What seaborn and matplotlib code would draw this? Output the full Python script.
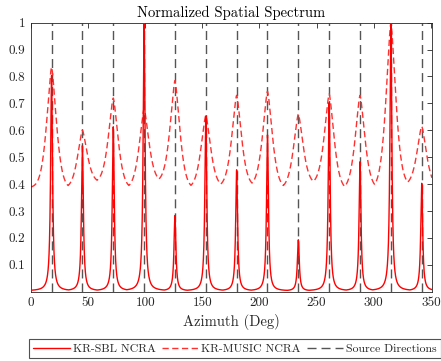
import numpy as np
import pandas as pd
import matplotlib
matplotlib.use("Agg")
import matplotlib.pyplot as plt
import seaborn as sns

# ---- data ----
directions = [18, 45, 72, 99, 126, 153, 180, 207, 234, 261, 288, 315, 342]
sbl_peaks = [0.80, 0.54, 0.61, 1.00, 0.28, 0.65, 0.45, 0.58, 0.19, 0.70, 0.48, 1.00, 0.40]
music_peaks = [0.835, 0.60, 0.72, 0.68, 0.785, 0.655, 0.73, 0.745, 0.66, 0.735, 0.73, 1.00, 0.615]
# valley level after each peak (last one wraps around 360 deg)
music_valleys = [0.384, 0.406, 0.384, 0.408, 0.384, 0.390, 0.392, 0.384, 0.400, 0.379, 0.383, 0.395, 0.387]
x_ticks = [0, 50, 100, 150, 200, 250, 300, 350]
y_ticks = [0.1, 0.2, 0.3, 0.4, 0.5, 0.6, 0.7, 0.8, 0.9, 1.0]
y_tick_labels = ["0.1", "0.2", "0.3", "0.4", "0.5", "0.6", "0.7", "0.8", "0.9", "1"]
series_labels = ["KR-SBL NCRA", "KR-MUSIC NCRA", "Source Directions"]
title = "Normalized Spatial Spectrum"
xlabel = "Azimuth (Deg)"

# ---- spectrum shapes built from the read peak / valley levels ----
az = np.arange(0, 351.0001, 0.05)

p = np.array(directions, float)
hm = np.array(music_peaks)
vm = np.array(music_valleys)
P = np.concatenate([[p[-1] - 360], p, [p[0] + 360]])
H = np.concatenate([[hm[-1]], hm, [hm[0]]])
V = np.concatenate([[vm[-1]], vm])


def lobe(d, s=6.0, a=1.5):
    return np.exp(-(np.abs(d) / s) ** a)


idx = np.searchsorted(P, az, side="right") - 1
idx = np.clip(idx, 0, len(P) - 2)
m = V[idx]
music = m + np.maximum((H[idx] - m) * lobe(az - P[idx]),
                       (H[idx + 1] - m) * lobe(az - P[idx + 1]))

hs = np.array(sbl_peaks)
w = 1.0
sbl = 0.003 + np.max(hs[:, None] / (1 + ((az[None, :] - p[:, None]) / w) ** 2), axis=0)

df_sbl = pd.DataFrame({"Azimuth": az, "Spectrum": sbl})
df_music = pd.DataFrame({"Azimuth": az, "Spectrum": music})

# ---- style ----
sns.set_style("white")
plt.rcParams["font.family"] = ["cmr10", "DejaVu Serif"]
plt.rcParams["axes.formatter.use_mathtext"] = True
plt.rcParams["mathtext.fontset"] = "cm"

fig = plt.figure(figsize=(4.41, 3.61), dpi=100)
ax = fig.add_axes([31 / 441, 1 - 291.7 / 361, (432 - 31) / 441, (291.7 - 22.7) / 361])

sns.lineplot(data=df_sbl, x="Azimuth", y="Spectrum", ax=ax, color="#ff0000",
             lw=1.0, estimator=None, label=series_labels[0], zorder=3)
sns.lineplot(data=df_music, x="Azimuth", y="Spectrum", ax=ax, color="#ff3030",
             lw=1.0, estimator=None, linestyle=(0, (4.5, 2.5)),
             label=series_labels[1], zorder=2)
for i, d in enumerate(directions):
    ax.axvline(d, color="#555555", lw=1.0, linestyle=(0, (6.5, 3.6)),
               label=series_labels[2] if i == 0 else None, zorder=1)

ax.set_xlim(0, 351)
ax.set_ylim(0.0, 1.0)
ax.set_xticks(x_ticks)
ax.set_xticklabels([str(t) for t in x_ticks])
ax.set_yticks(y_ticks)
ax.set_yticklabels(y_tick_labels)
ax.tick_params(direction="in", length=3.5, width=0.6, top=True, right=True,
               labeltop=False, labelright=False, labelsize=9.5, colors="#262626",
               pad=4)
for sp in ax.spines.values():
    sp.set_visible(True)
    sp.set_color("#262626")
    sp.set_linewidth(0.6)

ax.set_title(title, fontsize=10.5, color="#000000", pad=4)
ax.set_xlabel(xlabel, fontsize=10.5, color="#262626", labelpad=3)
ax.set_ylabel("")

ax.get_legend().remove()
handles, labels = ax.get_legend_handles_labels()
leg = fig.legend(handles, labels, loc="center", ncol=3,
                 bbox_to_anchor=(235 / 441, 1 - 348.5 / 361), fontsize=8.5,
                 frameon=True, fancybox=False, edgecolor="#262626",
                 handlelength=3.1, handletextpad=0.25, columnspacing=0.5,
                 borderpad=0.35, borderaxespad=0)
leg.get_frame().set_linewidth(0.8)

fig.savefig("out.png", dpi=100)
